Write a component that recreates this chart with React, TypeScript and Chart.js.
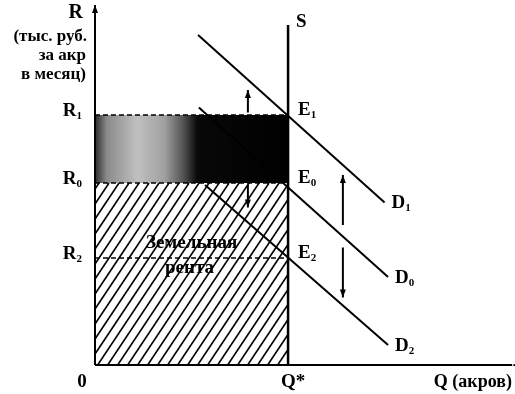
import React, { useEffect, useRef } from "react";
import { Chart, registerables } from "chart.js";

Chart.register(...registerables);

// ---- data (model units: Q in acres, R in thousand rubles per acre per month) ----
const Q_MAX = 10.8;
const R_MAX = 14.4;
const Q_STAR = 5;
const rentLevels = [10, 7.28, 4.28]; // R1, R0, R2
const rentSubs = ["1", "0", "2"];
const eqSubs = ["1", "0", "2"];
const demandD1 = [{ x: 2.67, y: 13.2 }, { x: 7.5, y: 6.5 }];
const demandD0 = [{ x: 2.69, y: 10.3 }, { x: 7.59, y: 3.52 }];
const demandD2 = [{ x: 2.85, y: 7.2 }, { x: 7.59, y: 0.8 }];
const demandSubs = ["1", "0", "2"];
const supplyS = [{ x: Q_STAR, y: 0 }, { x: Q_STAR, y: 13.6 }];
const shiftArrows = [
  { x: 3.96, from: 10.1, to: 11.0 },
  { x: 3.96, from: 7.2, to: 6.3 },
  { x: 6.42, from: 5.6, to: 7.6 },
  { x: 6.42, from: 4.7, to: 2.7 },
];
const yAxisTitle = ["R", "(тыс. руб.", "за акр", "в месяц)"];
const xAxisTitle = "Q (акров)";
const rentText = ["Земельная", "рента"];

const SERIF = '"Liberation Serif", "DejaVu Serif", serif';

function drawSub(ctx: CanvasRenderingContext2D, base: string, sub: string, x: number, y: number, align: "left" | "right") {
  ctx.font = `bold 19px ${SERIF}`;
  const bw = ctx.measureText(base).width;
  ctx.font = `bold 11px ${SERIF}`;
  const sw = ctx.measureText(sub).width;
  const total = bw + sw;
  const x0 = align === "left" ? x : x - total;
  ctx.textAlign = "left";
  ctx.textBaseline = "middle";
  ctx.font = `bold 19px ${SERIF}`;
  ctx.fillText(base, x0, y);
  ctx.font = `bold 11px ${SERIF}`;
  ctx.fillText(sub, x0 + bw, y + 5);
}

function arrowHead(ctx: CanvasRenderingContext2D, x: number, y: number, dir: number) {
  ctx.beginPath();
  ctx.moveTo(x, y);
  ctx.lineTo(x - 3, y - dir * 8);
  ctx.lineTo(x + 3, y - dir * 8);
  ctx.closePath();
  ctx.fill();
}

const diagramPlugin = {
  id: "diagram",
  beforeDatasetsDraw(chart: any) {
    const ctx: CanvasRenderingContext2D = chart.ctx;
    const xs = chart.scales.x;
    const ys = chart.scales.y;
    const x0 = xs.getPixelForValue(0);
    const xq = xs.getPixelForValue(Q_STAR);
    const y0 = ys.getPixelForValue(0);
    const yR1 = ys.getPixelForValue(rentLevels[0]);
    const yR0 = ys.getPixelForValue(rentLevels[1]);
    ctx.save();
    // shaded (gray -> black) area between R0 and R1
    const g = ctx.createLinearGradient(x0, 0, xq, 0);
    g.addColorStop(0, "#2a2a2a");
    g.addColorStop(0.06, "#8a8a8a");
    g.addColorStop(0.22, "#c0c0c0");
    g.addColorStop(0.36, "#a0a0a0");
    g.addColorStop(0.46, "#505050");
    g.addColorStop(0.53, "#080808");
    g.addColorStop(1, "#000");
    ctx.fillStyle = g;
    ctx.fillRect(x0, yR1, xq - x0, yR0 - yR1);
    // hatched land rent area
    ctx.beginPath();
    ctx.rect(x0, yR0, xq - x0, y0 - yR0);
    ctx.clip();
    ctx.strokeStyle = "#000";
    ctx.lineWidth = 1.6;
    const h = y0 - yR0;
    const slope = 1.5;
    for (let bx = x0 - h / slope - 6; bx < xq + 10; bx += 10) {
      ctx.beginPath();
      ctx.moveTo(bx, y0);
      ctx.lineTo(bx + h / slope, yR0);
      ctx.stroke();
    }
    ctx.restore();
  },
  afterDatasetsDraw(chart: any) {
    const ctx: CanvasRenderingContext2D = chart.ctx;
    const xs = chart.scales.x;
    const ys = chart.scales.y;
    const x0 = xs.getPixelForValue(0);
    const xq = xs.getPixelForValue(Q_STAR);
    const y0 = ys.getPixelForValue(0);
    ctx.save();
    ctx.fillStyle = "#000";
    ctx.strokeStyle = "#000";
    // axes
    ctx.lineWidth = 2;
    ctx.beginPath();
    ctx.moveTo(x0, y0);
    ctx.lineTo(x0, ys.getPixelForValue(R_MAX));
    ctx.moveTo(x0, y0);
    ctx.lineTo(xs.getPixelForValue(Q_MAX), y0);
    ctx.stroke();
    arrowHead(ctx, x0, ys.getPixelForValue(R_MAX), -1);
    ctx.save();
    ctx.translate(xs.getPixelForValue(Q_MAX), y0);
    ctx.rotate(-Math.PI / 2);
    arrowHead(ctx, 0, 0, -1);
    ctx.restore();
    // shift arrows
    ctx.lineWidth = 2;
    shiftArrows.forEach((a) => {
      const px = xs.getPixelForValue(a.x);
      const pf = ys.getPixelForValue(a.from);
      const pt = ys.getPixelForValue(a.to);
      ctx.beginPath();
      ctx.moveTo(px, pf);
      ctx.lineTo(px, pt);
      ctx.stroke();
      arrowHead(ctx, px, pt, pt > pf ? 1 : -1);
    });
    // y-axis title
    ctx.textBaseline = "middle";
    ctx.textAlign = "right";
    ctx.font = `bold 20px ${SERIF}`;
    ctx.fillText(yAxisTitle[0], 83, 13);
    ctx.font = `bold 17px ${SERIF}`;
    ctx.fillText(yAxisTitle[1], 87, 37);
    ctx.fillText(yAxisTitle[2], 86, 56);
    ctx.fillText(yAxisTitle[3], 86, 75);
    // rent level labels
    rentLevels.forEach((r, i) => {
      drawSub(ctx, "R", rentSubs[i], x0 - 13, ys.getPixelForValue(r) - 4, "right");
    });
    // equilibrium labels
    rentLevels.forEach((r, i) => {
      drawSub(ctx, "E", eqSubs[i], xq + 10, ys.getPixelForValue(r) - 5, "left");
    });
    // demand labels
    [demandD1, demandD0, demandD2].forEach((d, i) => {
      const p = d[d.length - 1];
      drawSub(ctx, "D", demandSubs[i], xs.getPixelForValue(p.x) + 7, ys.getPixelForValue(p.y) + 1, "left");
    });
    // S label
    ctx.textAlign = "left";
    ctx.font = `bold 19px ${SERIF}`;
    ctx.fillText("S", xq + 8, ys.getPixelForValue(supplyS[1].y) - 3);
    // origin, Q*, Q
    ctx.textAlign = "center";
    ctx.fillText("0", x0 - 13, y0 + 17);
    ctx.fillText("Q*", xq + 5, y0 + 17);
    ctx.textAlign = "right";
    ctx.font = `bold 18px ${SERIF}`;
    ctx.fillText(xAxisTitle, 512, y0 + 17);
    // land rent text
    ctx.textAlign = "center";
    ctx.font = `bold 19px ${SERIF}`;
    const cx = (x0 + xq) / 2;
    ctx.fillText(rentText[0], cx, ys.getPixelForValue(rentLevels[2]) - 15);
    ctx.fillText(rentText[1], cx - 2, ys.getPixelForValue(rentLevels[2]) + 10);
    ctx.restore();
  },
};

export default function App() {
  const ref = useRef<HTMLCanvasElement>(null);
  useEffect(() => {
    if (!ref.current) return;
    const dashed = (y: number) => ({
      data: [{ x: 0, y }, { x: Q_STAR, y }],
      borderColor: "#000",
      borderWidth: 1.5,
      borderDash: [5, 3],
      pointRadius: 0,
      showLine: true,
    });
    const solid = (d: { x: number; y: number }[], w = 2) => ({
      data: d,
      borderColor: "#000",
      borderWidth: w,
      pointRadius: 0,
      showLine: true,
    });
    const chart = new Chart(ref.current, {
      type: "scatter",
      data: {
        datasets: [
          dashed(rentLevels[0]),
          dashed(rentLevels[1]),
          dashed(rentLevels[2]),
          solid(demandD1),
          solid(demandD0),
          solid(demandD2),
          solid(supplyS, 2.5),
        ] as any,
      },
      options: {
        responsive: false,
        animation: false,
        layout: { padding: { left: 95, right: 3, top: 5, bottom: 29 } },
        plugins: { legend: { display: false }, tooltip: { enabled: false } },
        scales: {
          x: { type: "linear", min: 0, max: Q_MAX, display: false },
          y: { type: "linear", min: 0, max: R_MAX, display: false },
        },
      },
      plugins: [diagramPlugin],
    });
    return () => chart.destroy();
  }, []);
  return (
    <div style={{ position: "absolute", left: 0, top: 0, width: 515, height: 394, background: "#fff" }}>
      <canvas ref={ref} width={515} height={394} />
    </div>
  );
}
